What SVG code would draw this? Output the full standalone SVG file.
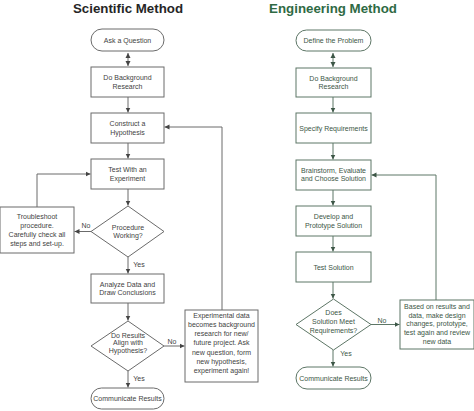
<svg xmlns="http://www.w3.org/2000/svg" width="474" height="411" viewBox="0 0 474 411">
<defs>
<style>
text{font-family:"Liberation Sans",Arial,sans-serif;text-anchor:middle}
.t{font-size:13.3px;font-weight:bold}
.s text{font-size:7px;fill:#3f3f3f}
.e text{font-size:7px;fill:#3c5646}
.s rect,.s polygon{fill:#fff;stroke:#6b6b6b;stroke-width:1}
.e rect,.e polygon{fill:#fff;stroke:#5d7666;stroke-width:1}
.cs path{fill:none;stroke:#6b6b6b;stroke-width:1}
.ce path{fill:none;stroke:#5d7666;stroke-width:1}
.lbl{font-size:7px}
</style>
<marker id="as" markerWidth="6" markerHeight="6" refX="5" refY="3" orient="auto-start-reverse" markerUnits="userSpaceOnUse"><path d="M0,0.5 L5,3 L0,5.5z" fill="#444"/></marker>
<marker id="ae" markerWidth="6" markerHeight="6" refX="5" refY="3" orient="auto-start-reverse" markerUnits="userSpaceOnUse"><path d="M0,0.5 L5,3 L0,5.5z" fill="#3c5646"/></marker>
</defs>
<rect width="474" height="411" fill="#fff"/>
<text class="t" x="128" y="13" fill="#262626">Scientific Method</text>
<text class="t" x="333" y="13" fill="#2f6a44">Engineering Method</text>

<g class="cs">
<path d="M128,53 L128,66" marker-start="url(#as)" marker-end="url(#as)"/>
<path d="M128,97 L128,112.5" marker-end="url(#as)"/>
<path d="M128,143 L128,158.5" marker-end="url(#as)"/>
<path d="M128,189 L128,205.5" marker-end="url(#as)"/>
<path d="M91,231.5 L74.5,231.5" marker-end="url(#as)"/>
<path d="M37,207 L37,174 L90.5,174" marker-end="url(#as)"/>
<path d="M128,257 L128,273.5" marker-end="url(#as)"/>
<path d="M128,303 L128,320.5" marker-end="url(#as)"/>
<path d="M164,346 L184.5,346" marker-end="url(#as)"/>
<path d="M222,310 L222,127 L164.5,127" marker-end="url(#as)"/>
<path d="M128,371 L128,387.5" marker-end="url(#as)"/>
</g>
<g class="ce">
<path d="M333,53 L333,67" marker-start="url(#ae)" marker-end="url(#ae)"/>
<path d="M333,97 L333,112.5" marker-end="url(#ae)"/>
<path d="M333,143 L333,159.5" marker-end="url(#ae)"/>
<path d="M333,190 L333,205.5" marker-end="url(#ae)"/>
<path d="M333,236 L333,251.5" marker-end="url(#ae)"/>
<path d="M333,282 L333,298.5" marker-end="url(#ae)"/>
<path d="M371,324.5 L399.5,324.5" marker-end="url(#ae)"/>
<path d="M436,300 L436,175 L371.5,175" marker-end="url(#ae)"/>
<path d="M333,350 L333,366.5" marker-end="url(#ae)"/>
</g>

<g class="s">
<text class="lbl" x="86" y="228">No</text>
<text class="lbl" x="139" y="266.5">Yes</text>
<text class="lbl" x="172" y="343.5">No</text>
<text class="lbl" x="139" y="380.5">Yes</text>
</g>
<g class="e">
<text class="lbl" x="382" y="322.5">No</text>
<text class="lbl" x="346" y="356">Yes</text>
</g>

<g id="s-ask" class="s"><rect x="91" y="29" width="73" height="22" rx="11"/><text x="127.5" y="42.5">Ask a Question</text></g>
<g id="s-bg" class="s"><rect x="91" y="67" width="73" height="30"/><text x="127.5" y="80">Do Background</text><text x="127.5" y="88.5">Research</text></g>
<g id="s-hyp" class="s"><rect x="91" y="113" width="73" height="30"/><text x="127.5" y="126">Construct a</text><text x="127.5" y="134.5">Hypothesis</text></g>
<g id="s-test" class="s"><rect x="91" y="159" width="73" height="30"/><text x="127.5" y="172">Test With an</text><text x="127.5" y="180.5">Experiment</text></g>
<g id="s-proc" class="s"><polygon points="128,206 164,231.5 128,257 91,231.5"/><text x="128" y="229.5">Procedure</text><text x="128" y="238">Working?</text></g>
<g id="s-trouble" class="s"><rect x="0" y="207" width="74" height="46"/><text x="37" y="218.5">Troubleshoot</text><text x="37" y="227.8">procedure.</text><text x="37" y="237.1">Carefully check all</text><text x="37" y="246.4">steps and set-up.</text></g>
<g id="s-analyze" class="s"><rect x="91" y="274" width="73" height="29"/><text x="127.5" y="286.5">Analyze Data and</text><text x="127.5" y="295">Draw Conclusions</text></g>
<g id="s-align" class="s"><polygon points="128,321 164,346 128,371 91,346"/><text x="128" y="337.5">Do Results</text><text x="128" y="345">Align with</text><text x="128" y="352.5">Hypothesis?</text></g>
<g id="s-exp" class="s"><rect x="185" y="310" width="73" height="72"/><text x="221.5" y="317.5">Experimental data</text><text x="221.5" y="326.8">becomes background</text><text x="221.5" y="336.1">research for new/</text><text x="221.5" y="345.4">future project. Ask</text><text x="221.5" y="354.7">new question, form</text><text x="221.5" y="364">new hypothesis,</text><text x="221.5" y="373.3">experiment again!</text></g>
<g id="s-comm" class="s"><rect x="91" y="388" width="73" height="21" rx="10.5"/><text x="127.5" y="401">Communicate Results</text></g>

<g id="e-define" class="e"><rect x="296" y="30" width="75" height="21" rx="10.5"/><text x="333.5" y="43">Define the Problem</text></g>
<g id="e-bg" class="e"><rect x="296" y="68" width="75" height="29"/><text x="333.5" y="80.5">Do Background</text><text x="333.5" y="89">Research</text></g>
<g id="e-spec" class="e"><rect x="296" y="113" width="75" height="30"/><text x="333.5" y="130.5">Specify Requirements</text></g>
<g id="e-brain" class="e"><rect x="296" y="160" width="75" height="30"/><text x="333.5" y="172.5">Brainstorm, Evaluate</text><text x="333.5" y="181.2">and Choose Solution</text></g>
<g id="e-dev" class="e"><rect x="296" y="206" width="75" height="30"/><text x="333.5" y="219.2">Develop and</text><text x="333.5" y="227.5">Prototype Solution</text></g>
<g id="e-test" class="e"><rect x="296" y="252" width="75" height="30"/><text x="333.5" y="269.5">Test Solution</text></g>
<g id="e-meet" class="e"><polygon points="333.5,299 371,324.5 333.5,350 296,324.5"/><text x="333.5" y="314.8">Does</text><text x="333.5" y="323.5">Solution Meet</text><text x="333.5" y="332.5">Requirements?</text></g>
<g id="e-based" class="e"><rect x="400" y="300" width="74" height="49"/><text x="437" y="309.2">Based on results and</text><text x="437" y="317.8">data, make design</text><text x="437" y="326.4">changes, prototype,</text><text x="437" y="335">test again and review</text><text x="437" y="343.6">new data</text></g>
<g id="e-comm" class="e"><rect x="296" y="367" width="75" height="22" rx="11"/><text x="333.5" y="380.5">Communicate Results</text></g>
</svg>
